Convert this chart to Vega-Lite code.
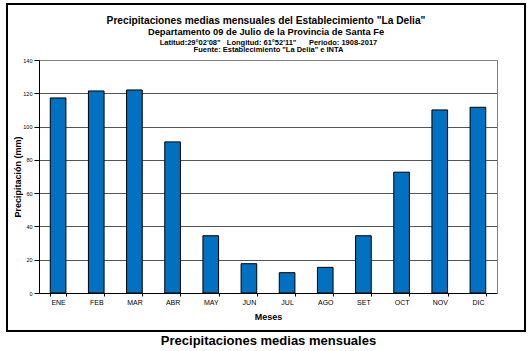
{
  "$schema": "https://vega.github.io/schema/vega-lite/v6.json",
  "width": 518,
  "height": 327,
  "autosize": {"type": "none"},
  "padding": {"left": 7, "top": 4, "right": 6, "bottom": 20},
  "background": "white",
  "title": {
    "text": "Precipitaciones medias mensuales del Establecimiento \"La Delia\"",
    "subtitle": "Departamento 09 de Julio de la Provincia de Santa Fe",
    "orient": "top",
    "anchor": "middle",
    "frame": "group",
    "offset": -33,
    "font": "Liberation Sans",
    "fontSize": 10.2,
    "fontWeight": "bold",
    "color": "#000",
    "subtitleFont": "Liberation Sans",
    "subtitleFontSize": 9.3,
    "subtitleFontWeight": "bold",
    "subtitleColor": "#000",
    "subtitlePadding": 1.5
  },
  "data": {
    "values": [
      {"mes": "ENE", "mm": 117.2},
      {"mes": "FEB", "mm": 121.4},
      {"mes": "MAR", "mm": 122.0},
      {"mes": "ABR", "mm": 90.8},
      {"mes": "MAY", "mm": 34.4},
      {"mes": "JUN", "mm": 17.6},
      {"mes": "JUL", "mm": 12.2},
      {"mes": "AGO", "mm": 15.4},
      {"mes": "SET", "mm": 34.4},
      {"mes": "OCT", "mm": 72.6},
      {"mes": "NOV", "mm": 110.0},
      {"mes": "DIC", "mm": 111.6}
    ]
  },
  "layer": [
    {
      "mark": {"type": "bar", "color": "#0070C0", "stroke": "#000", "strokeWidth": 1},
      "encoding": {
        "x": {
          "field": "mes", "type": "nominal", "sort": null,
          "scale": {"range": [32, 490], "paddingInner": 0.59, "paddingOuter": 0.295},
          "axis": {
            "orient": "bottom", "offset": -38, "title": "Meses", "labelAngle": 0,
            "tickBand": "extent", "tickSize": 3, "labelPadding": 2,
            "labelFont": "Liberation Sans", "labelFontSize": 7, "labelColor": "#000",
            "domainColor": "#000", "tickColor": "#000", "grid": false,
            "titleFont": "Liberation Sans", "titleFontSize": 9, "titleFontWeight": "bold",
            "titleColor": "#000", "titlePadding": 7
          }
        },
        "y": {
          "field": "mm", "type": "quantitative",
          "scale": {"domain": [0, 140], "range": [289, 56], "nice": false},
          "axis": {
            "orient": "left", "offset": -32,
            "values": [0, 20, 40, 60, 80, 100, 120, 140],
            "title": "Precipitación (mm)", "grid": true, "gridColor": "#555", "gridWidth": 1,
            "tickSize": 5, "labelPadding": 2,
            "labelFont": "Liberation Sans", "labelFontSize": 5.5, "labelColor": "#000",
            "domainColor": "#000", "tickColor": "#000",
            "titleFont": "Liberation Sans", "titleFontSize": 9, "titleFontWeight": "bold",
            "titleColor": "#000", "titlePadding": 0
          }
        }
      }
    },
    {
      "mark": {"type": "bar", "opacity": 0},
      "encoding": {
        "x": {
          "field": "mes", "type": "nominal", "sort": null,
          "axis": {
            "orient": "top", "offset": -56, "labels": false, "ticks": false,
            "domain": true, "domainColor": "#808080", "grid": false,
            "title": ["Latitud:29°02'08\"\u00a0\u00a0\u00a0Longitud: 61°52'11\"\u00a0\u00a0\u00a0\u00a0\u00a0\u00a0Periodo: 1908-2017\u00a0\u00a0\u00a0\u00a0\u00a0\u00a0", "\u00a0\u00a0\u00a0\u00a0\u00a0\u00a0\u00a0\u00a0Fuente: Establecimiento \"La Delia\" e INTA"],
            "titleFont": "Liberation Sans", "titleFontSize": 7.5, "titleFontWeight": "bold",
            "titleColor": "#000", "titleLineHeight": 7.6, "titlePadding": 6
          }
        },
        "y": {
          "field": "mm", "type": "quantitative",
          "axis": {
            "orient": "right", "offset": -28, "labels": false, "ticks": false,
            "grid": false, "domainColor": "#808080", "title": null
          }
        }
      }
    },
    {
      "mark": {"type": "bar", "opacity": 0},
      "encoding": {
        "x": {
          "field": "mes", "type": "nominal", "sort": null,
          "axis": {
            "orient": "bottom", "offset": 0, "labels": false, "ticks": false,
            "domain": false, "grid": false,
            "title": "Precipitaciones medias mensuales\u00a0\u00a0\u00a0\u00a0",
            "titleFont": "Liberation Sans", "titleFontSize": 13, "titleFontWeight": "bold",
            "titleColor": "#000", "titlePadding": 3
          }
        },
        "y": {"field": "mm", "type": "quantitative", "axis": null}
      }
    }
  ],
  "resolve": {"axis": {"x": "independent", "y": "independent"}},
  "config": {
    "view": {"stroke": "#000", "strokeWidth": 2},
    "font": "Liberation Sans"
  }
}
